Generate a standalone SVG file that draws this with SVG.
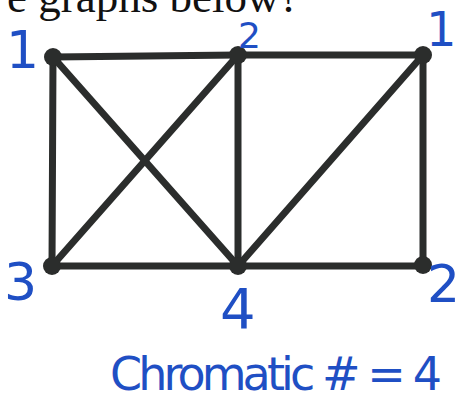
<svg xmlns="http://www.w3.org/2000/svg" width="466" height="402" viewBox="0 0 466 402">
<style>
.e{stroke:#2b2d2c;stroke-width:7;stroke-linecap:round}
.n{fill:#2b2d2c}
.b{fill:#1f4fc4;font-family:"DejaVu Sans","Liberation Sans",sans-serif}
.t{fill:#111;font-family:"Liberation Serif",serif;font-size:45px}
</style>
<rect width="466" height="402" fill="#fff"/>
<text class="t" x="7" y="12">e graphs below?</text>
<g id="connectors">
<line class="e" x1="53" y1="57" x2="238" y2="55"/>
<line class="e" x1="238" y1="55" x2="423" y2="55"/>
<line class="e" x1="52" y1="266" x2="238" y2="266"/>
<line class="e" x1="238" y1="266" x2="423" y2="266"/>
<line class="e" x1="53" y1="57" x2="52" y2="266"/>
<line class="e" x1="238" y1="55" x2="238" y2="266"/>
<line class="e" x1="423" y1="55" x2="423" y2="266"/>
<line class="e" x1="53" y1="57" x2="238" y2="266"/>
<line class="e" x1="52" y1="266" x2="238" y2="55"/>
<line class="e" x1="423" y1="55" x2="238" y2="266"/>
</g>
<g id="n1"><circle class="n" cx="53" cy="57" r="9"/><text class="b" x="6" y="68" font-size="52">1</text></g>
<g id="n2"><circle class="n" cx="238" cy="55" r="9"/><text class="b" x="238" y="48" font-size="36">2</text></g>
<g id="n3"><circle class="n" cx="423" cy="55" r="9"/><text class="b" x="426" y="46" font-size="48">1</text></g>
<g id="n4"><circle class="n" cx="52" cy="266" r="9"/><text class="b" x="4" y="300" font-size="52">3</text></g>
<g id="n5"><circle class="n" cx="238" cy="266" r="9"/><text class="b" x="220" y="328" font-size="56">4</text></g>
<g id="n6"><circle class="n" cx="423" cy="265" r="9"/><text class="b" x="427" y="302" font-size="52">2</text></g>
<text class="b" x="110" y="390" font-size="46" textLength="332" lengthAdjust="spacing">Chromatic # = 4</text>
</svg>
